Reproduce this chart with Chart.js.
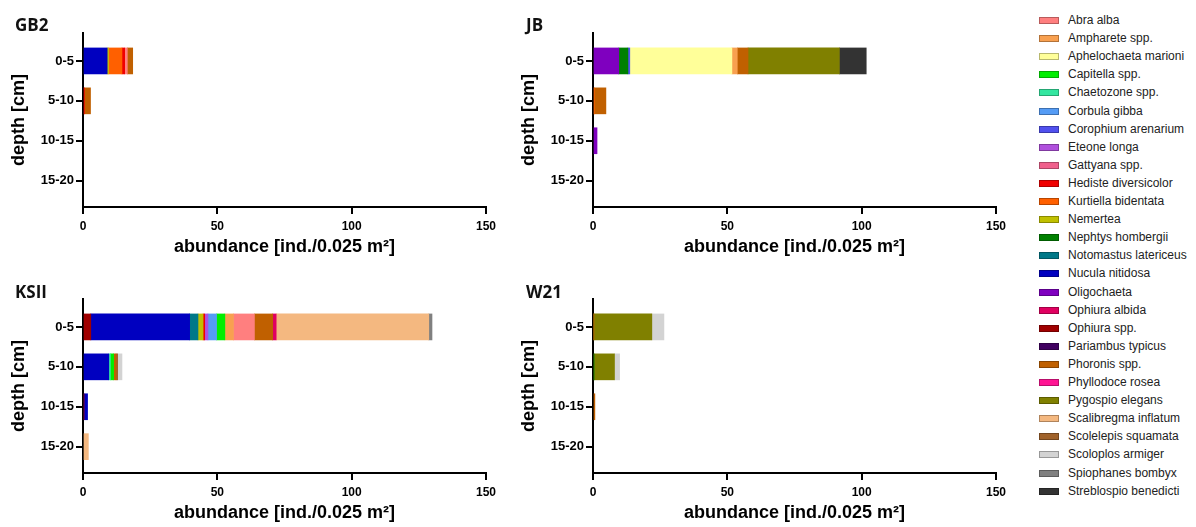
<!DOCTYPE html>
<html>
<head>
<meta charset="utf-8">
<script src="https://cdn.jsdelivr.net/npm/chart.js@4.4.1/dist/chart.umd.min.js"></script>
<style>
  html, body { margin:0; padding:0; background:#fff; width:1196px; height:527px; overflow:hidden; position:relative;
    font-family:"Liberation Sans", Arial, sans-serif; }
  .panel { position:absolute; width:510px; height:261px; }
  .ptitle { position:absolute; font-family:"Open Sans","Liberation Sans",sans-serif; font-weight:700; font-size:17px; line-height:20px; color:#111; }
  #legend { position:absolute; left:1039px; top:0; }
  .item { position:absolute; left:0; height:18px; white-space:nowrap; font-size:12px; line-height:18px; color:#222; }
  .sw { position:absolute; left:0; top:6px; width:20px; height:7px; box-sizing:border-box; border:1px solid rgba(0,0,0,.28); }
  .lbl { position:absolute; left:29px; top:0; }
</style>
</head>
<body>
<canvas class="panel" id="gb2" width="510" height="261" style="left:0;top:0"></canvas>
<canvas class="panel" id="jb" width="510" height="261" style="left:510px;top:0"></canvas>
<canvas class="panel" id="ksii" width="510" height="261" style="left:0;top:266px"></canvas>
<canvas class="panel" id="w21" width="510" height="261" style="left:510px;top:266px"></canvas>
<div class="ptitle" style="left:15px;top:15px">GB2</div>
<div class="ptitle" style="left:526px;top:15px">JB</div>
<div class="ptitle" style="left:15px;top:282px">KSII</div>
<div class="ptitle" style="left:526px;top:282px">W21</div>
<div id="legend"></div>
<script>
// Depth layers (y categories) and x-axis ticks
const depths = ['0-5', '5-10', '10-15', '15-20'];
const xTicks = [0, 50, 100, 150];

// Taxa in legend order with their fill colours
const species = [
  'Abra alba', 'Ampharete spp.', 'Aphelochaeta marioni', 'Capitella spp.', 'Chaetozone spp.',
  'Corbula gibba', 'Corophium arenarium', 'Eteone longa', 'Gattyana spp.', 'Hediste diversicolor',
  'Kurtiella bidentata', 'Nemertea', 'Nephtys hombergii', 'Notomastus latericeus', 'Nucula nitidosa',
  'Oligochaeta', 'Ophiura albida', 'Ophiura spp.', 'Pariambus typicus', 'Phoronis spp.',
  'Phyllodoce rosea', 'Pygospio elegans', 'Scalibregma inflatum', 'Scolelepis squamata',
  'Scoloplos armiger', 'Spiophanes bombyx', 'Streblospio benedicti'
];
const colors = [
  '#FF7F7F', '#F8A050', '#FFFF99', '#00EE00', '#33E6A0',
  '#559CF5', '#5050EE', '#B050DD', '#F0608C', '#F00000',
  '#FF6000', '#C0C000', '#008000', '#007888', '#0000C0',
  '#7F00BF', '#E00060', '#A00000', '#400060', '#C06000',
  '#FF1493', '#808000', '#F4B880', '#A0622A',
  '#D3D3D3', '#808080', '#333333'
];

// Order of the segments along each bar, from the axis outwards
const stackOrder = [
  'Ophiura spp.', 'Oligochaeta', 'Nucula nitidosa', 'Notomastus latericeus', 'Nephtys hombergii',
  'Nemertea', 'Kurtiella bidentata', 'Hediste diversicolor', 'Gattyana spp.', 'Eteone longa',
  'Corophium arenarium', 'Corbula gibba', 'Chaetozone spp.', 'Capitella spp.', 'Aphelochaeta marioni',
  'Ampharete spp.', 'Abra alba', 'Pariambus typicus', 'Phoronis spp.', 'Ophiura albida',
  'Phyllodoce rosea', 'Pygospio elegans', 'Scalibregma inflatum', 'Scolelepis squamata',
  'Scoloplos armiger', 'Spiophanes bombyx', 'Streblospio benedicti'
];

// Abundance per station: [taxon, 0-5, 5-10, 10-15, 15-20]
const gb2 = [
  ['Nucula nitidosa',      9,   0,   0, 0],
  ['Nemertea',             0.5, 0,   0, 0],
  ['Kurtiella bidentata',  5,   0,   0, 0],
  ['Hediste diversicolor', 1,   0.5, 0, 0],
  ['Abra alba',            1,   0,   0, 0],
  ['Phoronis spp.',        2,   2.3, 0, 0]
];
const jb = [
  ['Oligochaeta',          9.6, 0,   1.5, 0],
  ['Nephtys hombergii',    3.4, 0,   0,   0],
  ['Corophium arenarium',  0.7, 0,   0,   0],
  ['Aphelochaeta marioni', 38,  0,   0,   0],
  ['Kurtiella bidentata',  0,   0.5, 0,   0],
  ['Ampharete spp.',       2,   0,   0,   0],
  ['Phoronis spp.',        4,   4.3, 0,   0],
  ['Pygospio elegans',     34,  0,   0,   0],
  ['Streblospio benedicti',10,  0,   0,   0]
];
const ksii = [
  ['Ophiura spp.',          2.9,  0,   0.4, 0],
  ['Nucula nitidosa',       36.8, 9.6, 1.3, 0],
  ['Notomastus latericeus', 3.1,  0,   0,   0],
  ['Nemertea',              1.9,  0,   0,   0],
  ['Hediste diversicolor',  0.6,  0,   0,   0],
  ['Eteone longa',          1.2,  0,   0,   0],
  ['Corbula gibba',         3.2,  0,   0,   0],
  ['Chaetozone spp.',       0,    0.6, 0,   0],
  ['Capitella spp.',        3.1,  1.2, 0,   0],
  ['Ampharete spp.',        3.2,  0,   0,   0],
  ['Abra alba',             7.8,  0,   0,   0],
  ['Phoronis spp.',         6.8,  0.9, 0,   0],
  ['Ophiura albida',        1.3,  0,   0,   0],
  ['Scalibregma inflatum',  56.8, 0,   0,   2],
  ['Scolelepis squamata',   0,    0.6, 0,   0],
  ['Scoloplos armiger',     0,    1.6, 0,   0],
  ['Spiophanes bombyx',     1.2,  0,   0,   0]
];
const w21 = [
  ['Nephtys hombergii', 0,    0.4, 0,   0],
  ['Phoronis spp.',     0.3,  0,   0.7, 0],
  ['Pygospio elegans',  21.6, 7.6, 0,   0],
  ['Scoloplos armiger', 4.5,  1.9, 0,   0]
];

Chart.defaults.color = '#000';
Chart.defaults.font.family = '"Liberation Sans", Arial, sans-serif';

function buildDatasets(rows) {
  return stackOrder
    .filter(name => rows.some(r => r[0] === name))
    .map(name => {
      const row = rows.find(r => r[0] === name);
      return {
        label: name,
        data: depths.map((d, i) => ({ x: row[i + 1], y: i })).filter(p => p.x > 0),
        backgroundColor: colors[species.indexOf(name)],
        borderWidth: 0,
        barThickness: 26
      };
    });
}

function drawPanel(id, rows) {
  new Chart(document.getElementById(id), {
    type: 'bar',
    data: { datasets: buildDatasets(rows) },
    options: {
      indexAxis: 'y',
      responsive: false,
      animation: false,
      layout: { padding: { top: 33, right: 24, left: 0, bottom: 0 } },
      plugins: { legend: { display: false }, tooltip: { enabled: false } },
      scales: {
        x: {
          type: 'linear', stacked: true, min: xTicks[0], max: xTicks[xTicks.length - 1],
          afterBuildTicks: s => { s.ticks = xTicks.map(v => ({ value: v })); },
          ticks: { font: { size: 12, weight: 'bold' }, padding: 5, color: '#000' },
          grid: { drawOnChartArea: false, drawTicks: true, tickLength: 7, lineWidth: 2, color: '#000' },
          border: { display: true, color: '#000', width: 2 },
          title: { display: true, text: 'abundance [ind./0.025 m²]', color: '#000',
                   font: { size: 18, weight: 'bold' }, padding: { top: 0, bottom: 3 } },
          afterFit: s => { s.height = 54; }
        },
        y: {
          type: 'linear', stacked: true, reverse: true, offset: false, bounds: 'data',
          min: -0.7, max: 3.66,
          afterBuildTicks: s => { s.ticks = depths.map((d, i) => ({ value: i })); },
          ticks: { callback: v => depths[v], font: { size: 13, weight: 'bold' }, padding: 2, color: '#000' },
          grid: { offset: false, drawOnChartArea: false, drawTicks: true, tickLength: 7, lineWidth: 2, color: '#000' },
          border: { display: true, color: '#000', width: 2 },
          title: { display: true, text: 'depth [cm]', color: '#000',
                   font: { size: 18, weight: 'bold' }, padding: { top: 8, bottom: 0 } },
          afterFit: s => { s.width = 83; }
        }
      }
    }
  });
}

drawPanel('gb2', gb2);
drawPanel('jb', jb);
drawPanel('ksii', ksii);
drawPanel('w21', w21);

// Legend column
const legend = document.getElementById('legend');
species.forEach((name, i) => {
  const item = document.createElement('div');
  item.className = 'item';
  item.style.top = (11 + 18.1 * i) + 'px';
  const sw = document.createElement('div');
  sw.className = 'sw';
  sw.style.background = colors[i];
  const lbl = document.createElement('span');
  lbl.className = 'lbl';
  lbl.textContent = name;
  item.appendChild(sw);
  item.appendChild(lbl);
  legend.appendChild(item);
});
</script>
</body>
</html>
